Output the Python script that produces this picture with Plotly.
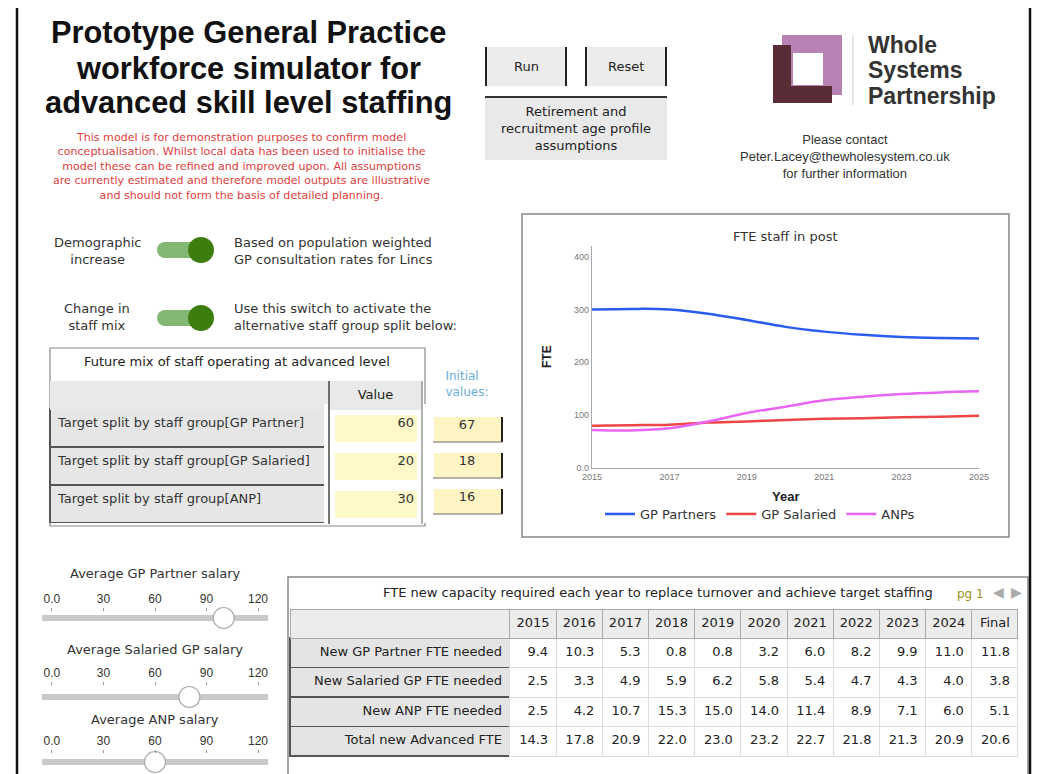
import plotly.graph_objects as go

W, H = 1051, 774
OFF = 8  # page body margin
FONT = "Liberation Sans, Arial, sans-serif"
BODY = "DejaVu Sans, Verdana, sans-serif"

# ---- data -------------------------------------------------------------
YEARS = [2015, 2016, 2017, 2018, 2019, 2020, 2021, 2022, 2023, 2024, 2025]
GP_PARTNERS = [300, 301, 300, 292, 280, 267, 258, 252, 248, 246, 245]
GP_SALARIED = [80, 81, 82, 86, 88, 91, 93, 94, 96, 97, 99]
ANPS = [72, 71, 75, 88, 104, 116, 128, 135, 140, 143, 145]

Y_TICKS = [0, 100, 200, 300, 400]
Y_TICK_TEXT = ["0.0", "100", "200", "300", "400"]

MIX_LABELS = [
    "Target split by staff group[GP Partner]",
    "Target split by staff group[GP Salaried]",
    "Target split by staff group[ANP]",
]
MIX_VALUES = [60, 20, 30]
INITIAL_VALUES = [67, 18, 16]

TABLE_COLS = ["2015", "2016", "2017", "2018", "2019", "2020",
              "2021", "2022", "2023", "2024", "Final"]
TABLE_ROWS = [
    "New GP Partner FTE needed",
    "New Salaried GP FTE needed",
    "New ANP FTE needed",
    "Total new Advanced FTE",
]
NEW_GP_PARTNER = [9.4, 10.3, 5.3, 0.8, 0.8, 3.2, 6.0, 8.2, 9.9, 11.0, 11.8]
NEW_SALARIED = [2.5, 3.3, 4.9, 5.9, 6.2, 5.8, 5.4, 4.7, 4.3, 4.0, 3.8]
NEW_ANP = [2.5, 4.2, 10.7, 15.3, 15.0, 14.0, 11.4, 8.9, 7.1, 6.0, 5.1]
TOTAL_NEW = [14.3, 17.8, 20.9, 22.0, 23.0, 23.2, 22.7, 21.8, 21.3, 20.9, 20.6]

SLIDER_TITLES = ["Average GP Partner salary", "Average Salaried GP salary",
                 "Average ANP salary"]
SLIDER_VALUES = [100, 80, 60]
SLIDER_TICKS = [0, 30, 60, 90, 120]
SLIDER_TICK_TEXT = ["0.0", "30", "60", "90", "120"]


# screen pixel -> paper helpers
def fx(p):
    return (p - OFF) / W


def fy(p):
    return 1 - (p - OFF) / H


def rect(x0, y0, x1, y1, fill="rgba(0,0,0,0)", line="rgba(0,0,0,0)", lw=1,
         layer="below"):
    return dict(type="rect", xref="paper", yref="paper",
                x0=fx(x0), x1=fx(x1), y0=fy(y1), y1=fy(y0),
                fillcolor=fill, line=dict(color=line, width=lw), layer=layer)


def seg(x0, y0, x1, y1, color="#333", lw=1, layer="above"):
    return dict(type="line", xref="paper", yref="paper",
                x0=fx(x0), x1=fx(x1), y0=fy(y0), y1=fy(y1),
                line=dict(color=color, width=lw), layer=layer)


def circle(cx, cy, r, fill, line="rgba(0,0,0,0)", lw=1):
    return dict(type="circle", xref="paper", yref="paper",
                x0=fx(cx - r), x1=fx(cx + r), y0=fy(cy + r), y1=fy(cy - r),
                fillcolor=fill, line=dict(color=line, width=lw), layer="above")


def label(x, y, s, size=13, color="#222", anchor="center", weight="normal",
          family=BODY, angle=0):
    return dict(x=fx(x), y=fy(y), xref="paper", yref="paper", text=s,
                showarrow=False, xanchor=anchor, yanchor="middle",
                textangle=angle, align=anchor if anchor != "center" else "center",
                font=dict(size=size, color=color, family=family, weight=weight))


fig = go.Figure()

# ---- FTE line chart ---------------------------------------------------
for name, vals, col in [("GP Partners", GP_PARTNERS, "#2a5cf0"),
                        ("GP Salaried", GP_SALARIED, "#ee4646"),
                        ("ANPs", ANPS, "#e866f4")]:
    fig.add_trace(go.Scatter(
        x=YEARS, y=vals, name=name, mode="lines",
        line=dict(color=col, width=2.5, shape="spline", smoothing=1),
        xaxis="x", yaxis="y",
    ))

# ---- sliders (own axes) -----------------------------------------------
slider_layout = [(612, 624), (686, 708), (754, 770)]
for i, val in enumerate(SLIDER_VALUES):
    n = i + 2
    fig.add_trace(go.Scatter(
        x=[val], y=[0.5], mode="markers", showlegend=False, hoverinfo="skip",
        marker=dict(size=21, color="white", line=dict(color="#aaaaaa", width=1.2)),
        xaxis=f"x{n}", yaxis=f"y{n}", cliponaxis=False,
    ))

# ---- mix table --------------------------------------------------------
fig.add_trace(go.Table(
    domain=dict(x=[fx(50), fx(422)], y=[fy(524), fy(381)]),
    columnwidth=[279, 93],
    header=dict(values=["", "Value"], height=28,
                fill=dict(color="#e9e9e9"),
                line=dict(color=["#e9e9e9", "#e9e9e9"], width=1),
                align=["left", "center"],
                font=dict(family=BODY, size=13, color="#222")),
    cells=dict(values=[MIX_LABELS, MIX_VALUES], height=38,
               fill=dict(color=["#e6e6e6", "#fff8c8"]),
               line=dict(color=["#555555", "white"], width=[1.5, 11]),
               align=["left", "right"],
               font=dict(family=BODY, size=13, color="#333")),
))

# initial values
fig.add_trace(go.Table(
    domain=dict(x=[fx(428), fx(507)], y=[fy(522), fy(361)]),
    header=dict(values=["Initial<br>values:"], height=50,
                fill=dict(color="white"), line=dict(color="white", width=1),
                align="center",
                font=dict(family=BODY, size=12, color="#6aaee0")),
    cells=dict(values=[INITIAL_VALUES], height=36,
               fill=dict(color="#fff5c4"), line=dict(color="white", width=11),
               align="center",
               font=dict(family=BODY, size=13, color="#333")),
))

# ---- bottom capacity table -------------------------------------------
columns = [TABLE_ROWS]
for j in range(len(TABLE_COLS)):
    columns.append([f"{NEW_GP_PARTNER[j]:.1f}", f"{NEW_SALARIED[j]:.1f}",
                    f"{NEW_ANP[j]:.1f}", f"{TOTAL_NEW[j]:.1f}"])

fig.add_trace(go.Table(
    domain=dict(x=[fx(290), fx(1018)], y=[fy(762), fy(609)]),
    columnwidth=[220] + [46.2] * len(TABLE_COLS),
    header=dict(values=[""] + TABLE_COLS, height=29,
                fill=dict(color="#ececec"),
                line=dict(color="#aaaaaa", width=1),
                align="center",
                font=dict(family=BODY, size=13, color="#222")),
    cells=dict(values=columns, height=29.5,
               fill=dict(color=["#e4e4e4"] + ["white"] * len(TABLE_COLS)),
               line=dict(color=["#555555"] + ["#dddddd"] * len(TABLE_COLS),
                         width=[1.5] + [1] * len(TABLE_COLS)),
               align="right",
               font=dict(family=BODY, size=13, color="#222")),
))

# ---- decorations ------------------------------------------------------
shapes = [
    # outer frame
    rect(17, 5, 1030, 800, line="#111", lw=2.5, layer="above"),
    # buttons
    rect(485, 47, 567, 86, fill="#ececec"),
    seg(486, 47, 486, 86, "#222", 2),
    seg(566, 47, 566, 86, "#222", 2),
    rect(585, 47, 667, 86, fill="#ececec"),
    seg(586, 47, 586, 86, "#222", 2),
    seg(666, 47, 666, 86, "#222", 2),
    rect(485, 97, 667, 160, fill="#e9e9e9"),
    seg(485, 97, 667, 97, "#333", 2),
    # logo
    rect(782, 35, 842, 95, fill="#b882b4"),
    rect(773, 45, 791, 103, fill="#5a2d36"),
    rect(773, 86, 832, 103, fill="#5a2d36"),
    rect(793, 53, 823, 85, fill="white"),
    seg(853, 35, 853, 105, "#cccccc", 1),
    # toggles
    rect(165, 242, 200, 258, fill="#83b874", layer="above"),
    circle(165, 250, 8, "#83b874"),
    circle(201, 250, 13, "#3d7d0e"),
    rect(165, 310, 200, 326, fill="#83b874", layer="above"),
    circle(165, 318, 8, "#83b874"),
    circle(201, 318, 13, "#3d7d0e"),
    # mix table frame
    rect(50, 348, 425, 526, line="#888888", lw=1.2),
    seg(329, 381, 329, 524, "#444", 1.5),
    seg(422, 381, 422, 524, "#999", 1.5),
    # initial value box shadows
    seg(502, 417, 502, 442, "#222", 2),
    seg(433, 442, 502, 442, "#666", 1),
    seg(502, 453, 502, 478, "#222", 2),
    seg(433, 478, 502, 478, "#666", 1),
    seg(502, 489, 502, 514, "#222", 2),
    seg(433, 514, 502, 514, "#666", 1),
    # chart frame
    rect(522, 214, 1009, 537, line="#888888", lw=1.5),
    # bottom table frame
    rect(288, 577, 1028, 800, line="#888888", lw=1.5),
]
for n, (top, bot) in enumerate(slider_layout, start=2):
    shapes.append(dict(type="line", xref=f"x{n} domain", yref=f"y{n}",
                       x0=0, x1=1, y0=0.5, y1=0.5, layer="below",
                       line=dict(color="#c9c9c9", width=6)))

annotations = [
    label(248, 32, "Prototype General Practice", 30.8, "#111", weight="bold", family=FONT),
    label(248, 68, "workforce simulator for", 30.8, "#111", weight="bold", family=FONT),
    label(248, 103, "advanced skill level staffing", 30.8, "#111", weight="bold", family=FONT),
    label(241, 166,
          "This model is for demonstration purposes to confirm model<br>"
          "conceptualisation. Whilst local data has been used to initialise the<br>"
          "model these can be refined and improved upon. All assumptions<br>"
          "are currently estimated and therefore model outputs are illustrative<br>"
          "and should not form the basis of detailed planning.",
          11.1, "#e0403c"),
    label(526, 66, "Run", 13),
    label(626, 66, "Reset", 13),
    label(576, 128, "Retirement and<br>recruitment age profile<br>assumptions", 13),
    label(866, 45, "Whole", 23, "#333", "left", weight="bold", family=FONT),
    label(866, 70, "Systems", 23, "#333", "left", weight="bold", family=FONT),
    label(866, 96, "Partnership", 23, "#333", "left", weight="bold", family=FONT),
    label(845, 157, "Please contact<br>Peter.Lacey@thewholesystem.co.uk<br>"
          "for further information", 13, "#333", family=FONT),
    label(97, 251, "Demographic<br>increase", 13, "#333"),
    label(232, 251, "Based on population weighted<br>GP consultation rates for Lincs",
          13, "#333", "left"),
    label(97, 317, "Change in<br>staff mix", 13, "#333"),
    label(232, 317, "Use this switch to activate the<br>alternative staff group split below:",
          13, "#333", "left"),
    label(237, 362, "Future mix of staff operating at advanced level", 13, "#222"),
    label(785, 236, "FTE staff in post", 13, "#333"),
    label(547, 357, "FTE", 12, "#222", angle=-90, weight="bold", family=FONT),
    label(785, 496, "Year", 13, "#222", weight="bold", family=FONT),
    label(658, 592, "FTE new capacity required each year to replace turnover "
          "and achieve target staffing", 13, "#222"),
    label(970, 594, "pg 1", 12, "#a09020"),
    label(998, 592, "\u25c0", 14, "#aaaaaa"),
    label(1016, 592, "\u25b6", 14, "#aaaaaa"),
]
for i, t in enumerate(SLIDER_TITLES):
    annotations.append(label(155, [573, 649, 719][i], t, 13, "#333"))

layout_axes = dict(
    xaxis=dict(domain=[fx(592), fx(979)], range=[2015, 2025],
               tickvals=YEARS[::2], showgrid=False, zeroline=False,
               showline=True, linecolor="#aaaaaa", linewidth=1.2,
               tickfont=dict(size=9, color="#777", family=FONT),
               anchor="y", fixedrange=True, automargin=False),
    yaxis=dict(domain=[fy(468), fy(246)], range=[0, 420],
               tickvals=Y_TICKS, ticktext=Y_TICK_TEXT, showgrid=False,
               zeroline=False, showline=True, linecolor="#aaaaaa",
               linewidth=1.2, tickfont=dict(size=9, color="#777", family=FONT),
               anchor="x", fixedrange=True, automargin=False),
)
for n, (top, bot) in enumerate(slider_layout, start=2):
    layout_axes[f"xaxis{n}"] = dict(
        domain=[fx(42), fx(268)], range=[-5.8, 125.8], anchor=f"y{n}",
        side="top", tickvals=SLIDER_TICKS, ticktext=SLIDER_TICK_TEXT,
        ticks="outside", ticklen=3, tickcolor="#999", showline=False,
        showgrid=False, zeroline=False, automargin=False,
        tickfont=dict(size=12, color="#333", family=FONT), fixedrange=True)
    layout_axes[f"yaxis{n}"] = dict(
        domain=[fy(bot), fy(top)], range=[0, 1], anchor=f"x{n}",
        visible=False, fixedrange=True)

fig.update_layout(
    width=W, height=H,
    margin=dict(l=0, r=0, t=0, b=0, pad=0, autoexpand=False),
    paper_bgcolor="white", plot_bgcolor="white",
    font=dict(family=BODY, color="#222"),
    shapes=shapes, annotations=annotations,
    legend=dict(orientation="h", x=fx(760), xanchor="center",
                y=fy(514), yanchor="middle",
                font=dict(size=13, color="#333", family=BODY),
                bgcolor="rgba(0,0,0,0)", itemwidth=30),
    **layout_axes,
)

fig.write_html("out.html")
